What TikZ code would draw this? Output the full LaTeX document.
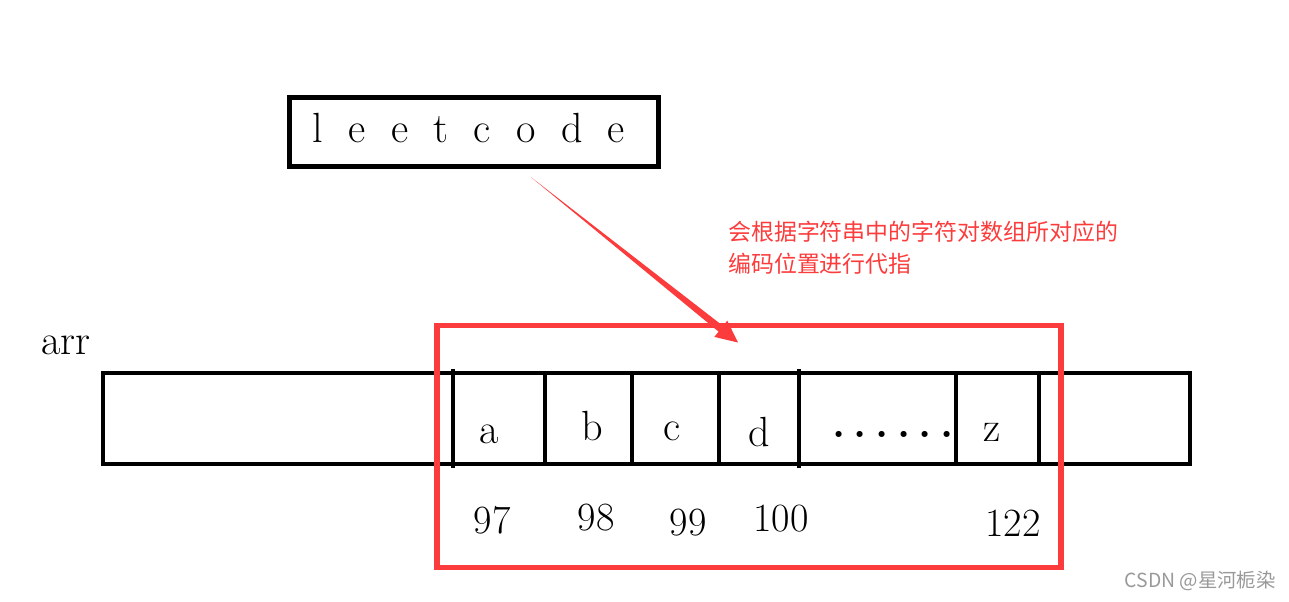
\documentclass[tikz,border=0pt]{standalone}
\usepackage{fontspec}
\newfontfamily\cjk{Noto Sans CJK SC}
\usepackage{tikz}
\usetikzlibrary{calc}
\definecolor{markred}{RGB}{252,60,60}
\newcommand\wordgap[1]{\spaceskip=#1\relax\xspaceskip=#1\relax}

\begin{document}
\begin{tikzpicture}[
    x=0.025cm, y=-0.025cm,
    box/.style={rectangle, draw, line width=3.8pt, inner sep=0pt},
    cellline/.style={line width=3pt},
    letter/.style={anchor=base, font=\fontsize{30}{36}\selectfont},
    code/.style={anchor=base, font=\fontsize{28.5}{34}\selectfont},
    note/.style={anchor=north west, align=left, text=markred,
                 font=\cjk\fontsize{16.3}{22.3}\selectfont, inner sep=0pt}
]
\useasboundingbox (0,0) rectangle (1289,601);

% Input string
\node[box, minimum width=9.225cm, minimum height=1.725cm] (word) at (474,132) {};
\node[letter, font=\fontsize{30}{36}\selectfont\wordgap{0.6em}] (wordtext) at (469,142)
    {l e e t c o d e};

% Array
\node[letter, anchor=base west, inner sep=0pt] (arrname) at (41,354) {arr};
\draw[cellline] (103,373) rectangle (1190,464);
\foreach \x in {545,632,719,956,1039}
    \draw[cellline] (\x,373) -- (\x,464);
\foreach \x in {453,799}
    \draw[cellline] (\x,369) -- (\x,468);

% Cells
\node[letter] (ca) at (489,443) {a};
\node[letter] (cb) at (592,440) {b};
\node[letter] (cc) at (672,440) {c};
\node[letter] (cd) at (759,446) {d};
\node[letter, font=\fontsize{30}{36}\selectfont\bfseries\wordgap{0.2em}] (cdots) at (893,437)
    {. . . . . .};
\node[letter] (cz) at (992,441) {z};

% Codes
\node[code] (na) at (492,533) {97};
\node[code] (nb) at (596,530) {98};
\node[code] (nc) at (688,535) {99};
\node[code] (nd) at (781,531) {100};
\node[code] (nz) at (1013,536) {122};

% Marked range
\node[box, draw=markred, line width=4.2pt, minimum width=15.6cm, minimum height=6.05cm]
    (range) at (749,446.5) {};

% Arrow
\coordinate (tail) at ($(word.south)+(57,8)$);
\coordinate (tip) at ($(range.north)+(-11,20)$);
\coordinate (headbase) at ($(tip)!0.55cm!(tail)$);
\fill[markred] (tail) -- ($(headbase)!0.09cm!90:(tip)$) -- ($(headbase)!0.26cm!90:(tip)$)
    -- (tip) -- ($(headbase)!0.26cm!-90:(tip)$) -- ($(headbase)!0.09cm!-90:(tip)$) -- cycle;

% Note
\node[note] (note) at (728,221)
    {会根据字符串中的字符对数组所对应的\\编码位置进行代指};

% Watermark
\node[anchor=east, inner sep=0pt, text=black!40, font=\cjk\fontsize{13.8}{16}\selectfont]
    (mark) at (1276,581) {CSDN @星河栀染};

\end{tikzpicture}
\end{document}
